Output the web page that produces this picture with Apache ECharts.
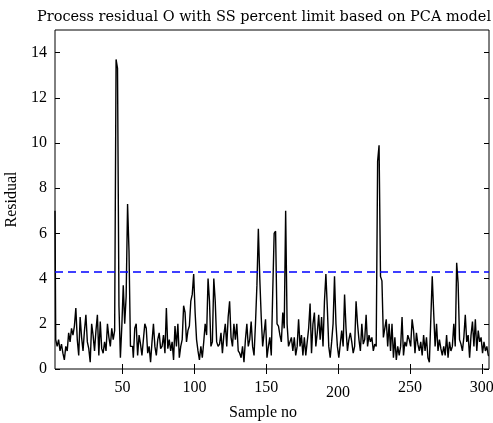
<!DOCTYPE html>
<html><head><meta charset="utf-8">
<script src="https://cdn.jsdelivr.net/npm/echarts@6/dist/echarts.min.js"></script>
<style>html,body{margin:0;padding:0;background:#fff}#c{width:493px;height:423px}</style>
</head><body><div id="c"></div>
<script>
// ---- data ----
const chartTitle = 'Process residual O with SS percent limit based on PCA model';
const xName = 'Sample no';
const yName = 'Residual';
const firstSample = 3;
const residual = [
  7.0,1.3,1.0,1.3,0.8,1.1,0.7,0.4,1.0,0.8,
  1.6,1.2,1.8,1.5,1.9,2.7,1.3,0.6,2.3,1.4,
  0.8,1.7,2.4,1.2,0.9,0.3,2.0,1.5,0.8,1.7,
  2.4,0.6,2.1,0.9,0.7,1.2,0.8,2.0,1.4,1.0,
  1.8,1.3,1.7,13.7,13.3,2.8,0.5,1.9,3.7,2.0,
  3.2,7.3,5.2,1.0,1.0,0.5,1.8,2.0,0.6,1.5,
  1.1,0.6,1.3,2.0,1.8,0.7,1.0,0.3,1.2,2.0,
  1.0,0.6,1.3,1.6,0.9,1.0,1.5,0.7,2.7,0.9,
  1.3,0.8,1.2,0.4,1.9,1.0,2.0,0.5,1.0,1.3,
  2.8,2.5,1.2,1.7,1.9,3.0,3.3,4.2,2.5,1.3,
  0.8,0.4,1.0,0.5,1.2,2.0,1.5,4.0,3.0,1.0,
  1.2,4.0,3.0,1.2,1.0,1.1,1.6,0.7,1.5,2.0,
  1.0,2.3,3.0,1.4,1.0,2.0,1.3,2.0,0.8,0.7,
  0.5,1.0,0.3,1.3,2.0,1.0,1.3,2.1,1.0,0.6,
  2.0,3.7,6.2,4.0,2.3,1.0,1.6,2.2,0.5,1.0,
  1.4,0.6,3.4,6.0,6.1,2.0,1.9,1.5,1.2,2.5,
  1.8,7.0,2.0,1.0,1.2,1.4,0.8,1.4,0.6,1.0,
  2.2,1.0,1.5,0.6,1.4,0.6,1.2,1.8,2.9,0.7,
  2.0,2.5,1.0,1.6,2.4,1.3,2.3,1.0,3.0,4.2,
  2.7,1.0,0.5,1.2,2.0,4.1,2.0,1.0,0.5,1.1,
  1.7,1.0,3.3,1.8,0.8,1.3,1.6,1.2,0.7,1.0,
  3.0,2.0,1.3,0.8,2.0,1.1,1.3,2.4,1.0,1.5,
  1.2,1.4,0.8,1.1,1.0,9.2,9.9,4.1,3.9,1.4,
  1.8,2.2,1.0,2.0,0.8,2.0,0.5,1.4,0.4,1.0,
  0.6,1.0,2.3,0.6,1.2,1.0,1.5,1.3,1.0,2.2,
  1.7,0.7,1.6,1.1,0.8,1.2,0.6,1.5,0.8,1.4,
  0.5,0.3,2.2,4.1,2.5,1.0,2.0,0.8,1.3,0.9,
  0.6,1.0,0.6,1.5,0.5,1.2,0.8,1.0,2.0,1.0,
  4.7,3.8,1.3,1.1,0.8,1.4,2.4,1.2,1.5,0.5,
  1.5,2.1,1.0,2.2,0.8,1.7,1.2,1.4,0.7,1.2,
  0.8,1.0,0.6
];
const limitValue = 4.3;
const xTicks = [50, 100, 150, 200, 250, 300];
const yTicks = [0, 2, 4, 6, 8, 10, 12, 14];
const xMin = 3, xMax = 305;
const yMin = 0, yMax = 15;

// ---- chart ----
const FONT = 'Liberation Serif';
const TFONT = 'DejaVu Serif';
const points = residual.map((v, i) => [firstSample + i, v]);
const chart = echarts.init(document.getElementById('c'), null, {renderer: 'canvas'});
const tickStyle = {show: true, inside: true, length: 5, lineStyle: {color: '#000', width: 1}};
const labelBase = {fontFamily: FONT, fontSize: 16, color: '#000'};
chart.setOption({
  animation: false,
  backgroundColor: '#fff',
  title: [
    {text: chartTitle, left: 259, top: 5, textAlign: 'center',
     textStyle: {fontFamily: TFONT, fontSize: 14.5, fontWeight: 'normal', color: '#000'}},
    {text: xName, left: 258, top: 400, textAlign: 'center',
     textStyle: {fontFamily: FONT, fontSize: 16, fontWeight: 'normal', color: '#000'}}
  ],
  grid: {left: 55, right: 4, top: 30, bottom: 54, containLabel: false, outerBoundsMode: 'none',
         show: true, borderColor: '#000', borderWidth: 1, backgroundColor: 'transparent'},
  xAxis: [
    {type: 'value', position: 'bottom', min: xMin, max: xMax,
     axisLine: {show: false}, splitLine: {show: false},
     axisTick: Object.assign({customValues: xTicks}, tickStyle),
     axisLabel: Object.assign({customValues: xTicks, margin: 11,
       formatter: v => v === 200 ? '{lo|200}' : String(v),
       rich: {lo: Object.assign({padding: [5, 0, 0, 0]}, labelBase)}}, labelBase)},
    {type: 'value', position: 'top', min: xMin, max: xMax,
     axisLine: {show: false}, splitLine: {show: false},
     axisTick: Object.assign({customValues: xTicks}, tickStyle),
     axisLabel: {show: false}}
  ],
  yAxis: [
    {type: 'value', position: 'left', min: yMin, max: yMax,
     name: yName, nameLocation: 'middle', nameRotate: 90, nameGap: 29,
     nameTextStyle: {fontFamily: FONT, fontSize: 16, color: '#000'},
     axisLine: {show: false}, splitLine: {show: false},
     axisTick: Object.assign({customValues: yTicks}, tickStyle),
     axisLabel: Object.assign({customValues: yTicks, margin: 8}, labelBase)},
    {type: 'value', position: 'right', min: yMin, max: yMax,
     axisLine: {show: false}, splitLine: {show: false},
     axisTick: Object.assign({customValues: yTicks}, tickStyle),
     axisLabel: {show: false}}
  ],
  series: [{
    type: 'line', data: points, showSymbol: false, symbol: 'none', step: 'middle',
    lineStyle: {color: '#000', width: 1.4}, z: 3,
    markLine: {silent: true, symbol: ['none', 'none'], label: {show: false},
      lineStyle: {color: '#0000ff', type: [8, 5], width: 1.5},
      data: [{yAxis: limitValue}]}
  }]
});
</script></body></html>
